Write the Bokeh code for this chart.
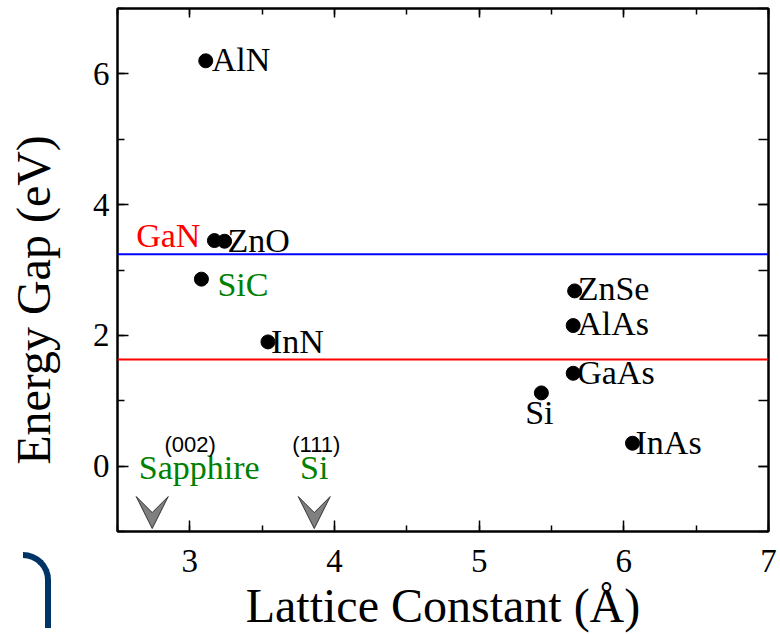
from bokeh.plotting import figure
from bokeh.models import (ColumnDataSource, LinearAxis, SingleIntervalTicker, Arrow,
                          VeeHead, Span, Div)
from bokeh.layouts import column, gridplot
from bokeh.core.properties import value
from bokeh.embed import file_html
from bokeh.resources import INLINE

# ---- data ----
materials = ["AlN", "GaN", "ZnO", "SiC", "InN", "ZnSe", "AlAs", "GaAs", "Si", "InAs"]
lattice = [3.11, 3.17, 3.24, 3.08, 3.54, 5.66, 5.65, 5.65, 5.43, 6.06]
gap = [6.20, 3.45, 3.44, 2.86, 1.90, 2.68, 2.15, 1.42, 1.12, 0.35]

substrates = ["Sapphire", "Si"]
substrate_planes = ["(002)", "(111)"]
substrate_lattice = [2.74, 3.86]

line_levels = [3.24, 1.63]          # blue, red horizontal reference lines

# ---- styles ----
SERIF = "Liberation Serif"
SANS = "Liberation Sans"
GREEN = "#008000"
label_colors = ["black", "red", "black", "#008000", "black", "black", "black", "black", "black", "black"]
label_align = ["left", "right", "left", "left", "left", "left", "left", "left", "center", "left"]
label_dx = [6, -14, 3, 16, 3, 3, 4, 4, -2, 3]
label_dy = [-1, -5, -1, 5, 0, -2, -2, -1, 20, -1]

x0, x1 = 2.5, 7.0
y0, y1 = -1.0, 7.0

p = figure(width=780, height=634, x_range=(x0, x1), y_range=(y0, y1),
           output_backend="svg", toolbar_location=None,
           min_border_left=117, min_border_right=12, min_border_top=8,
           min_border_bottom=98, x_axis_label="Lattice Constant (Å)",
           y_axis_label="Energy Gap (eV)" + "\u00a0" * 5)
p.grid.visible = False
p.outline_line_color = "black"
p.outline_line_width = 2
p.background_fill_color = "white"
p.border_fill_color = "white"


def style_axis(ax, major_in, minor_in, show_labels=True):
    ax.axis_line_color = "black"
    ax.axis_line_width = 2
    ax.major_tick_line_color = "black"
    ax.minor_tick_line_color = "black"
    ax.major_tick_line_width = 1.5
    ax.minor_tick_line_width = 1.5
    ax.major_tick_in = major_in
    ax.major_tick_out = 0
    ax.minor_tick_in = minor_in
    ax.minor_tick_out = 0
    ax.major_label_text_font = SERIF
    if show_labels:
        ax.major_label_text_font_size = "33px"
        ax.major_label_text_color = "black"
    else:
        ax.major_label_text_font_size = "2px"
        ax.major_label_text_color = None
    ax.axis_label_text_font = SERIF
    ax.axis_label_text_font_size = "48px"
    ax.axis_label_text_font_style = "normal"
    ax.axis_label_text_color = "black"


xa = p.xaxis[0]
xa.ticker = SingleIntervalTicker(interval=1, num_minor_ticks=2)
style_axis(xa, 11, 6)
xa.major_label_standoff = 18
xa.axis_label_standoff = 4

ya = p.yaxis[0]
ya.ticker = SingleIntervalTicker(interval=2, num_minor_ticks=2)
style_axis(ya, 11, 7)
ya.major_label_standoff = 8
ya.axis_label_standoff = 30

top = LinearAxis(ticker=SingleIntervalTicker(interval=1, num_minor_ticks=2))
style_axis(top, 9, 6, False)
top.major_label_standoff = 0
p.add_layout(top, "above")

right = LinearAxis(ticker=SingleIntervalTicker(interval=2, num_minor_ticks=2))
style_axis(right, 10, 10, False)
right.major_label_standoff = 0
p.add_layout(right, "right")

# reference lines
p.add_layout(Span(location=line_levels[0], dimension="width", line_color="#0000ff", line_width=2))
p.add_layout(Span(location=line_levels[1], dimension="width", line_color="#ff0000", line_width=2))

# data points
src = ColumnDataSource(dict(x=lattice, y=gap, name=materials, color=label_colors,
                            align=label_align, dx=label_dx, dy=label_dy))
p.scatter("x", "y", source=src, size=14, color="black")
p.text("x", "y", text="name", source=src, text_color="color", text_align="align",
       x_offset="dx", y_offset="dy", text_baseline="alphabetic",
       text_font=value(SERIF), text_font_size="34px")

# substrate arrows and labels
arrow_tip = y0 + 0.045
arrow_tail = arrow_tip + 0.3
ssrc = ColumnDataSource(dict(x=substrate_lattice, ys=[arrow_tail] * 2, ye=[arrow_tip] * 2,
                             name=substrates, plane=substrate_planes,
                             ly=[y0 + 0.79] * 2, py=[y0 + 1.18] * 2,
                             ndx=[47, 0], pdx=[38, 2]))
p.add_layout(Arrow(end=VeeHead(size=32, fill_color="#808080", line_color="#333333", line_width=1),
                   x_start="x", y_start="ys", x_end="x", y_end="ye", source=ssrc,
                   line_alpha=0, line_width=0))
p.text("x", "ly", text="name", source=ssrc, text_color=GREEN, text_align="center",
       x_offset="ndx", y_offset=-12, text_baseline="alphabetic", text_font=value(SERIF),
       text_font_size="34px")
p.text("x", "py", text="plane", source=ssrc, text_color="black", text_align="center",
       x_offset="pdx", y_offset=-10, text_baseline="alphabetic", text_font=value(SANS),
       text_font_size="22px")

# decorative slide fragment at lower left (outside the plot frame)
deco = Div(text="", width=28, height=76, margin=0,
           styles={"position": "absolute", "left": "23px", "top": "552px",
                   "border-top": "6px solid #003366", "border-right": "6px solid #003366",
                   "border-top-right-radius": "31px"})

grid = gridplot([[p]], toolbar_location=None)
lay = column(grid, deco, spacing=0)
open("out.html", "w").write(file_html(lay, INLINE))
